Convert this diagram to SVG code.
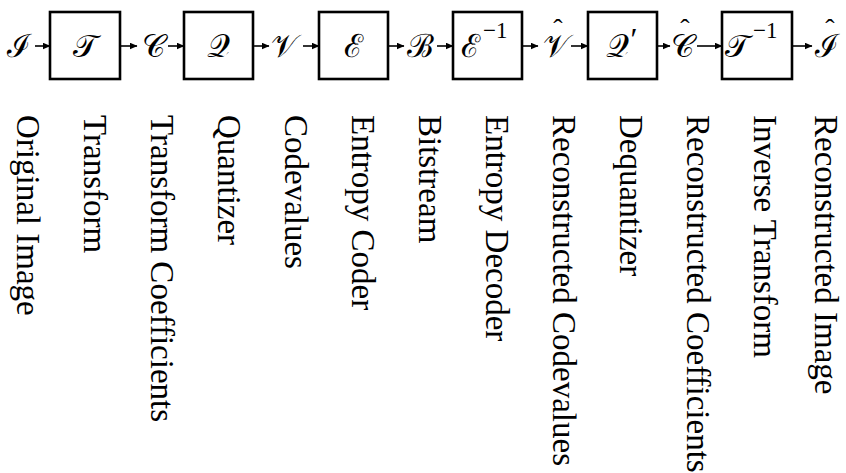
<svg xmlns="http://www.w3.org/2000/svg" width="846" height="473" viewBox="0 0 846 473">
<style>
.box{fill:none;stroke:#000;stroke-width:2.6}
.sym{font-family:"Liberation Serif",serif;font-size:32px;fill:#000;text-anchor:middle}
.hat{font-family:"Liberation Serif",serif;font-size:28px;fill:#000;text-anchor:middle}
.sup{font-family:"Liberation Serif",serif;font-size:23px;fill:#000}
.lbl{font-family:"Liberation Serif",serif;font-size:33px;fill:#000}
.arr{stroke:#000;stroke-width:1.6;fill:none;marker-end:url(#ah)}
</style>
<defs>
<marker id="ah" markerWidth="8" markerHeight="7" refX="7.5" refY="3.5" orient="auto" markerUnits="userSpaceOnUse">
<path d="M0,0 L8,3.5 L0,7 z" fill="#000"/>
</marker>
</defs>
<rect width="846" height="473" fill="#fff"/>
<g id="connectors">
<line class="arr" x1="35" y1="46" x2="50" y2="46"/>
<line class="arr" x1="121" y1="46" x2="137" y2="46"/>
<line class="arr" x1="168" y1="46" x2="184" y2="46"/>
<line class="arr" x1="254" y1="46" x2="269" y2="46"/>
<line class="arr" x1="303" y1="46" x2="319" y2="46"/>
<line class="arr" x1="389" y1="46" x2="404" y2="46"/>
<line class="arr" x1="437" y1="46" x2="453" y2="46"/>
<line class="arr" x1="523" y1="46" x2="538" y2="46"/>
<line class="arr" x1="571" y1="46" x2="588" y2="46"/>
<line class="arr" x1="658" y1="46" x2="670" y2="46"/>
<line class="arr" x1="697" y1="46" x2="722" y2="46"/>
<line class="arr" x1="793" y1="46" x2="812" y2="46"/>
</g>
<g id="n-I"><text class="sym" x="19" y="57">ℐ</text></g>
<g id="n-T"><rect class="box" x="50" y="12" width="70" height="67"/><text class="sym" x="85" y="57">𝒯</text></g>
<g id="n-C"><text class="sym" x="153" y="57">𝒞</text></g>
<g id="n-Q"><rect class="box" x="184" y="12" width="69" height="67"/><text class="sym" x="218.5" y="57">𝒬</text></g>
<g id="n-V"><text class="sym" x="284" y="57">𝒱</text></g>
<g id="n-E"><rect class="box" x="319" y="12" width="69" height="67"/><text class="sym" x="353.5" y="57">ℰ</text></g>
<g id="n-B"><text class="sym" x="420" y="57">ℬ</text></g>
<g id="n-Einv"><rect class="box" x="453" y="12" width="69" height="67"/><text class="sym" x="470" y="57">ℰ</text><text class="sup" x="483" y="38">−1</text></g>
<g id="n-Vhat"><text class="sym" x="556" y="57">𝒱</text><text class="hat" x="558" y="38">ˆ</text></g>
<g id="n-Qp"><rect class="box" x="588" y="12" width="69" height="67"/><text class="sym" x="617" y="57">𝒬</text><text class="sym" x="634" y="50">′</text></g>
<g id="n-Chat"><text class="sym" x="682" y="57">𝒞</text><text class="hat" x="685" y="38">ˆ</text></g>
<g id="n-Tinv"><rect class="box" x="722" y="12" width="70" height="67"/><text class="sym" x="737" y="57">𝒯</text><text class="sup" x="753" y="38">−1</text></g>
<g id="n-Ihat"><text class="sym" x="827" y="57">ℐ</text><text class="hat" x="830" y="38">ˆ</text></g>
<g id="labels">
<g id="l-0"><text class="lbl" transform="translate(17,115) rotate(90)">Original Image</text></g>
<g id="l-1"><text class="lbl" transform="translate(84,115) rotate(90)">Transform</text></g>
<g id="l-2"><text class="lbl" transform="translate(151,115) rotate(90)">Transform Coefficients</text></g>
<g id="l-3"><text class="lbl" transform="translate(218,115) rotate(90)">Quantizer</text></g>
<g id="l-4"><text class="lbl" transform="translate(285,115) rotate(90)">Codevalues</text></g>
<g id="l-5"><text class="lbl" transform="translate(352,115) rotate(90)">Entropy Coder</text></g>
<g id="l-6"><text class="lbl" transform="translate(419,115) rotate(90)">Bitstream</text></g>
<g id="l-7"><text class="lbl" transform="translate(486,115) rotate(90)">Entropy Decoder</text></g>
<g id="l-8"><text class="lbl" transform="translate(553,115) rotate(90)">Reconstructed Codevalues</text></g>
<g id="l-9"><text class="lbl" transform="translate(620,115) rotate(90)">Dequantizer</text></g>
<g id="l-10"><text class="lbl" transform="translate(687,115) rotate(90)">Reconstructed Coefficients</text></g>
<g id="l-11"><text class="lbl" transform="translate(754,115) rotate(90)">Inverse Transform</text></g>
<g id="l-12"><text class="lbl" transform="translate(815,115) rotate(90)">Reconstructed Image</text></g>
</g>
</svg>
